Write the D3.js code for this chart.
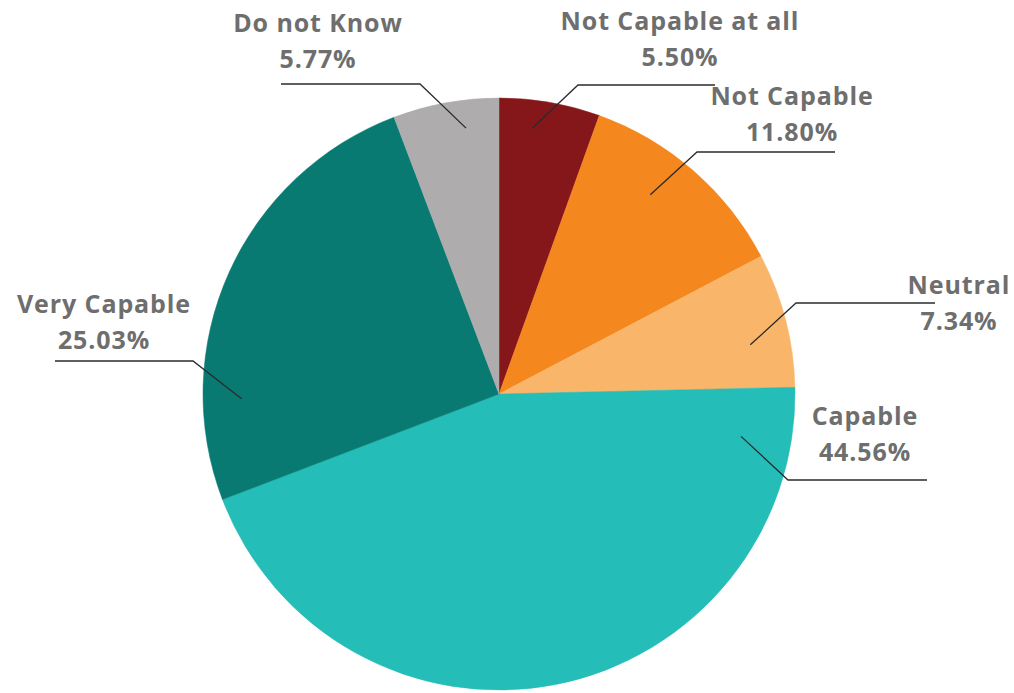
<!DOCTYPE html>
<html>
<head>
<meta charset="utf-8">
<script src="https://cdn.jsdelivr.net/npm/d3@7"></script>
<style>
  body { margin: 0; background: #fff; }
</style>
</head>
<body>
<div id="chart"></div>
<script>
// chart data
const categories = ["Not Capable at all", "Not Capable", "Neutral", "Capable", "Very Capable", "Do not Know"];
const shares = [5.50, 11.80, 7.34, 44.56, 25.03, 5.77];
const colors = ["#85171a", "#f5871f", "#f9b66b", "#24bdb7", "#087a72", "#aeacad"];

// label layout: where the leader line touches the slice (fraction of slice angle, fraction of radius),
// the elbow and the end of the horizontal part, and the text centre
const labelLayout = [
    {t: 0.36, r: 0.905, elbow: [578, 85],  end: [715, 85],  tx: 680, ty: 30},
    {t: 0.41, r: 0.845, elbow: [697, 152], end: [835, 152], tx: 792, ty: 105},
    {t: 0.63, r: 0.865, elbow: [796, 303], end: [935, 303], tx: 959, ty: 294},
    {t: 0.07, r: 0.83,  elbow: [788, 480], end: [927, 480], tx: 865, ty: 425},
    {t: 0.22, r: 0.87,  elbow: [193, 361], end: [55, 361],  tx: 104, ty: 313},
    {t: 0.66, r: 0.905, elbow: [420, 84],  end: [281, 84],  tx: 318, ty: 32}
];

const w = 1014;
const h = 693;
const cx = 499, cy = 394, radius = 296;

const svg = d3.select("#chart")
    .append("svg")
    .attr("width", w)
    .attr("height", h);

const rows = categories.map((c, i) => ({name: c, value: shares[i], color: colors[i]}));

const pie = d3.pie()
    .value(d => d.value)
    .sort(null);
const arc = d3.arc()
    .innerRadius(0)
    .outerRadius(radius);

const arcs = pie(rows);

const g = svg.append("g")
    .attr("transform", `translate(${cx},${cy})`);

g.selectAll("path")
    .data(arcs)
    .enter()
    .append("path")
    .attr("d", arc)
    .attr("fill", d => d.data.color)
    .attr("stroke", d => d.data.color)
    .attr("stroke-width", 0.5);

// leader lines + labels
arcs.forEach((d, i) => {
    const lay = labelLayout[i];
    const a = d.startAngle + (d.endAngle - d.startAngle) * lay.t;
    const px = cx + Math.sin(a) * radius * lay.r;
    const py = cy - Math.cos(a) * radius * lay.r;
    svg.append("polyline")
        .attr("points", [[px, py], lay.elbow, lay.end].map(p => p.join(",")).join(" "))
        .attr("fill", "none")
        .attr("stroke", "#2b2b2b")
        .attr("stroke-width", 1.3);

    const txt = svg.append("text")
        .attr("text-anchor", "middle")
        .attr("font-family", "'Open Sans', sans-serif")
        .attr("font-weight", "bold")
        .attr("font-size", "25px")
        .attr("letter-spacing", "0.9px")
        .attr("fill", "#6e6e6e");
    txt.append("tspan")
        .attr("x", lay.tx)
        .attr("y", lay.ty)
        .text(d.data.name);
    txt.append("tspan")
        .attr("x", lay.tx)
        .attr("y", lay.ty + 36)
        .text(d3.format(".2f")(d.data.value) + "%");
});
</script>
</body>
</html>
